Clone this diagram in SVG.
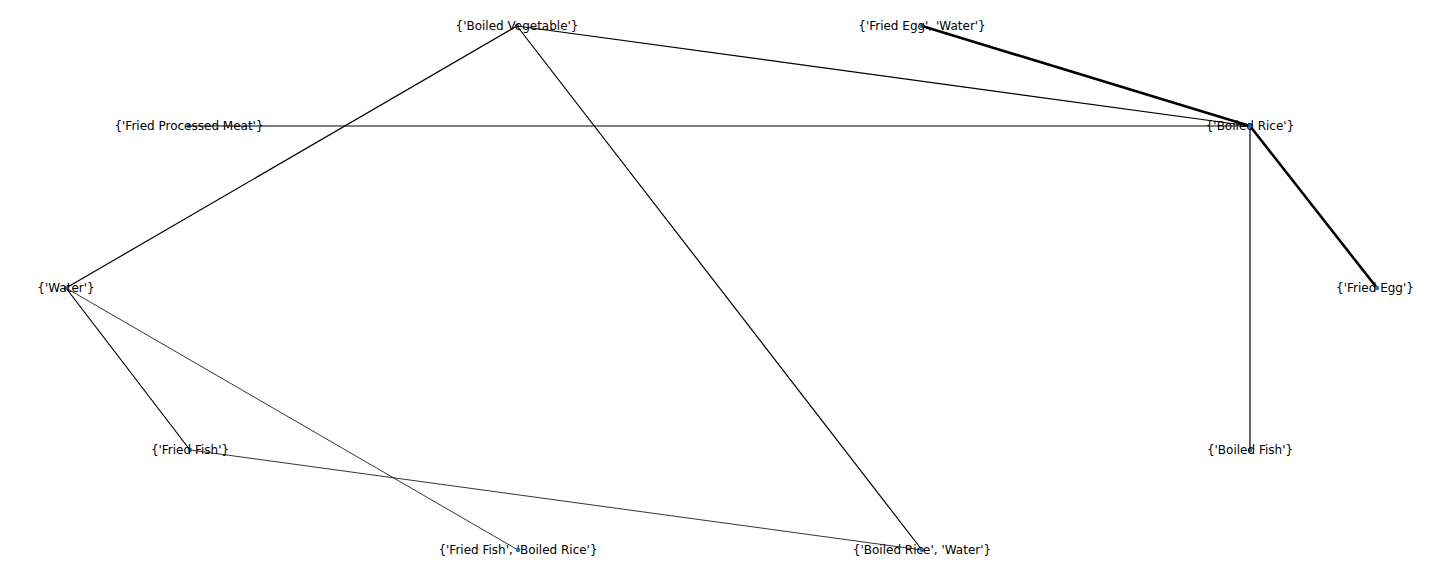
<svg xmlns="http://www.w3.org/2000/svg" width="1440" height="576" viewBox="0 0 1440 576">
  <style>
    .edge { stroke: #000; fill: none; stroke-linecap: round; }
    .w1 { stroke-width: 1.2; }
    .w2 { stroke-width: 0.8; }
    .w3 { stroke-width: 2.6; }
    .dot { fill: #1f78b4; }
    .label { font-family: "DejaVu Sans", sans-serif; font-size: 12px; fill: #000; text-anchor: middle; dominant-baseline: central; }
  </style>
  <rect width="1440" height="576" fill="#fff"/>
  <g id="connectors">
    <line class="edge w1" x1="517" y1="26" x2="66" y2="288"/>
    <line class="edge w1" x1="517" y1="26" x2="1250" y2="126"/>
    <line class="edge w1" x1="517" y1="26" x2="922" y2="550"/>
    <line class="edge w3" x1="922" y1="26" x2="1250" y2="126"/>
    <line class="edge w1" x1="189" y1="126" x2="1250" y2="126"/>
    <line class="edge w3" x1="1250" y1="126" x2="1377" y2="288"/>
    <line class="edge w1" x1="1250" y1="126" x2="1250" y2="450"/>
    <line class="edge w1" x1="66" y1="288" x2="190" y2="450"/>
    <line class="edge w2" x1="66" y1="288" x2="518" y2="550"/>
    <line class="edge w2" x1="190" y1="450" x2="922" y2="550"/>
  </g>
  <g id="n-boiled-vegetable"><circle class="dot" cx="517" cy="26" r="2.2"/><text class="label" x="517" y="26">{'Boiled Vegetable'}</text></g>
  <g id="n-fried-egg-water"><circle class="dot" cx="922" cy="26" r="2.2"/><text class="label" x="922" y="26">{'Fried Egg', 'Water'}</text></g>
  <g id="n-fried-processed-meat"><circle class="dot" cx="189" cy="126" r="2.2"/><text class="label" x="189" y="126">{'Fried Processed Meat'}</text></g>
  <g id="n-boiled-rice"><circle class="dot" cx="1250" cy="126" r="2.2"/><text class="label" x="1250" y="126">{'Boiled Rice'}</text></g>
  <g id="n-water"><circle class="dot" cx="66" cy="288" r="2.2"/><text class="label" x="66" y="288">{'Water'}</text></g>
  <g id="n-fried-egg"><circle class="dot" cx="1377" cy="288" r="2.2"/><text class="label" x="1375" y="288">{'Fried Egg'}</text></g>
  <g id="n-fried-fish"><circle class="dot" cx="190" cy="450" r="2.2"/><text class="label" x="190" y="450">{'Fried Fish'}</text></g>
  <g id="n-boiled-fish"><circle class="dot" cx="1250" cy="450" r="2.2"/><text class="label" x="1250" y="450">{'Boiled Fish'}</text></g>
  <g id="n-fried-fish-boiled-rice"><circle class="dot" cx="518" cy="550" r="2.2"/><text class="label" x="518" y="550">{'Fried Fish', 'Boiled Rice'}</text></g>
  <g id="n-boiled-rice-water"><circle class="dot" cx="922" cy="550" r="2.2"/><text class="label" x="922" y="550">{'Boiled Rice', 'Water'}</text></g>
</svg>
